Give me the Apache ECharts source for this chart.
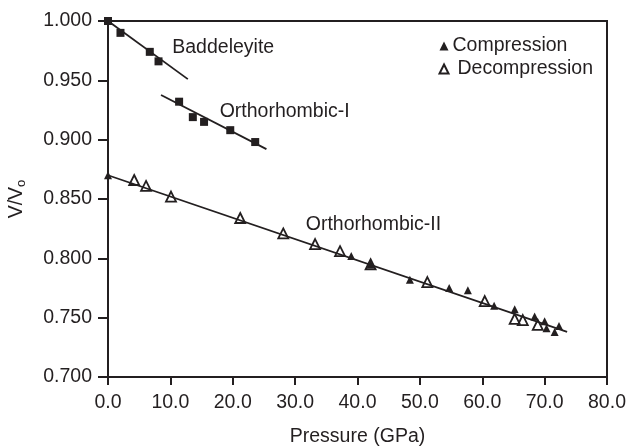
<!DOCTYPE html>
<html>
<head>
<meta charset="utf-8">
<script src="https://cdn.jsdelivr.net/npm/echarts@6/dist/echarts.min.js"></script>
<style>
  html, body { margin: 0; padding: 0; background: #fff; }
  #chart { width: 628px; height: 447px; }
</style>
</head>
<body>
<div id="chart"></div>
<script>
// Pressure (GPa) and relative volume V/V0 for each phase
var baddeleyiteP = [0, 2.0, 6.7, 8.1];
var baddeleyiteV = [1.000, 0.990, 0.974, 0.966];

var orthoIP = [11.4, 13.6, 15.4, 19.6, 23.6];
var orthoIV = [0.932, 0.919, 0.915, 0.908, 0.898];

var compressionP = [0, 39.0, 42.1, 48.4, 54.7, 57.7, 61.9, 65.2, 68.4, 70.0, 70.3, 71.6, 72.3];
var compressionV = [0.870, 0.802, 0.795, 0.782, 0.775, 0.773, 0.760, 0.757, 0.751, 0.747, 0.741, 0.738, 0.743];

var decompressionP = [4.2, 6.1, 10.1, 21.2, 28.1, 33.2, 37.2, 42.1, 51.2, 60.4, 65.2, 66.5, 68.9];
var decompressionV = [0.866, 0.861, 0.852, 0.834, 0.821, 0.812, 0.806, 0.795, 0.780, 0.764, 0.749, 0.748, 0.744];

// Linear fits: [startP, startV, endP, endV]
var fitBaddeleyite = [0, 1.000, 12.8, 0.951];
var fitOrthoI = [8.5, 0.9376, 25.4, 0.892];
var fitOrthoII = [0, 0.870, 73.6, 0.738];

var xTicks = [0, 10, 20, 30, 40, 50, 60, 70, 80];
var yTicks = [0.70, 0.75, 0.80, 0.85, 0.90, 0.95, 1.00];

var phaseNames = ['Baddeleyite', 'Orthorhombic-I', 'Orthorhombic-II'];

function pairs(xs, ys) {
  return xs.map(function (x, i) { return [x, ys[i]]; });
}
function fitLine(f) {
  return [[f[0], f[1]], [f[2], f[3]]];
}

var ink = '#231f20';
var font = 'Liberation Sans, Arial, sans-serif';
var fs = 19.5;

var chart = echarts.init(document.getElementById('chart'), null, { renderer: 'canvas' });

function lineSeries(f) {
  return {
    type: 'line',
    data: fitLine(f),
    symbol: 'none',
    lineStyle: { color: ink, width: 1.8 },
    silent: true,
    z: 2
  };
}

chart.setOption({
  animation: false,
  backgroundColor: '#fff',
  textStyle: { fontFamily: font, color: ink },
  grid: {
    left: 108, right: 21, top: 21, bottom: 70,
    containLabel: false,
    outerBoundsMode: 'none',
    show: true, borderColor: ink, borderWidth: 2, backgroundColor: 'transparent'
  },
  legend: {
    data: ['Compression', 'Decompression'],
    orient: 'vertical',
    right: 30,
    top: 31,
    itemGap: 3,
    itemWidth: 9,
    itemHeight: 9,
    formatter: function (n) { return n === 'Decompression' ? '{d|' + n + '}' : n; },
    textStyle: {
      fontSize: fs, color: ink, fontFamily: font, padding: [0, 0, 0, -1],
      rich: { d: { fontSize: fs, color: ink, fontFamily: font, padding: [0, 0, 0, 5] } }
    }
  },
  xAxis: {
    type: 'value',
    min: xTicks[0], max: xTicks[xTicks.length - 1], interval: 10,
    name: 'Pressure (GPa)',
    nameLocation: 'middle',
    nameGap: 50,
    nameTextStyle: { fontSize: fs, color: ink, fontFamily: font },
    axisLine: { lineStyle: { color: ink, width: 2 } },
    axisTick: { show: true, length: 8, lineStyle: { color: ink, width: 2 } },
    axisLabel: { fontSize: fs, color: ink, fontFamily: font, margin: 16,
      formatter: function (v) { return v.toFixed(1); } },
    splitLine: { show: false }
  },
  yAxis: {
    type: 'value',
    min: yTicks[0], max: yTicks[yTicks.length - 1], interval: 0.05,
    name: 'V/V{sub|o}',
    nameLocation: 'middle',
    nameGap: 80,
    nameRotate: 90,
    nameTextStyle: {
      fontSize: fs, color: ink, fontFamily: font,
      rich: { sub: { fontSize: 13, color: ink, fontFamily: font, padding: [9, 0, 0, 0] } }
    },
    axisLine: { lineStyle: { color: ink, width: 2 } },
    axisTick: { show: true, length: 10, lineStyle: { color: ink, width: 2 } },
    axisLabel: { fontSize: fs, color: ink, fontFamily: font, margin: 16,
      formatter: function (v) { return v.toFixed(3); } },
    splitLine: { show: false }
  },
  series: [
    lineSeries(fitBaddeleyite),
    lineSeries(fitOrthoI),
    lineSeries(fitOrthoII),
    {
      name: 'Baddeleyite',
      type: 'scatter',
      data: pairs(baddeleyiteP, baddeleyiteV),
      symbol: 'rect',
      symbolSize: 8,
      itemStyle: { color: ink, opacity: 1 },
      z: 3
    },
    {
      name: 'Orthorhombic-I',
      type: 'scatter',
      data: pairs(orthoIP, orthoIV),
      symbol: 'rect',
      symbolSize: 8,
      itemStyle: { color: ink, opacity: 1 },
      z: 3
    },
    {
      name: 'Decompression',
      type: 'scatter',
      data: pairs(decompressionP, decompressionV),
      symbol: 'triangle',
      symbolSize: 10,
      itemStyle: { color: 'rgba(255,255,255,0)', borderColor: ink, borderWidth: 1.8, opacity: 1 },
      z: 3
    },
    {
      name: 'Compression',
      type: 'scatter',
      data: pairs(compressionP, compressionV),
      symbol: 'triangle',
      symbolSize: 8,
      itemStyle: { color: ink, opacity: 1 },
      z: 4
    },
    {
      // phase names written next to their fit lines
      type: 'scatter',
      symbolSize: 0,
      silent: true,
      itemStyle: { opacity: 1 },
      data: [
        { name: phaseNames[0], value: [10.3, 0.9772] },
        { name: phaseNames[1], value: [17.9, 0.9237] },
        { name: phaseNames[2], value: [31.7, 0.828] }
      ],
      label: {
        show: true, position: 'right', distance: 0,
        formatter: '{b}', fontSize: fs, color: ink, fontFamily: font
      }
    }
  ]
});
</script>
</body>
</html>
